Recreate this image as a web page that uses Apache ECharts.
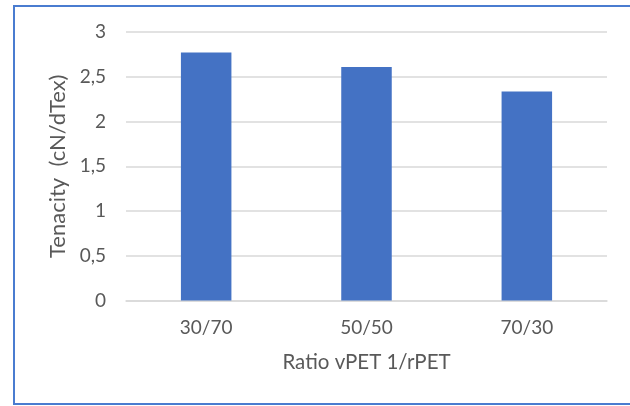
<!DOCTYPE html>
<html>
<head>
<meta charset="utf-8">
<style>
  html, body { margin: 0; padding: 0; background: #ffffff; }
  #chart { width: 630px; height: 406px; }
</style>
<script src="https://cdn.jsdelivr.net/npm/echarts@6/dist/echarts.min.js"></script>
</head>
<body>
<div id="chart"></div>
<script>
// Blend ratios and measured tenacity
const ratios = ['30/70', '50/50', '70/30'];
const tenacity = [2.77, 2.61, 2.335];
const yTicks = [0, 0.5, 1, 1.5, 2, 2.5, 3];

const FONT = 'Lato, "Open Sans", sans-serif';
const TEXT = '#595959';

const chart = echarts.init(document.getElementById('chart'), null, { renderer: 'canvas' });

chart.setOption({
  animation: false,
  backgroundColor: '#ffffff',
  graphic: [{
    type: 'rect',
    shape: { x: 14, y: 6, width: 630, height: 398 },
    style: { fill: 'none', stroke: '#4a7cd0', lineWidth: 2 },
    silent: true
  }],
  grid: { left: 126, right: 23, top: 32, bottom: 105.5, containLabel: false },
  xAxis: {
    type: 'category',
    data: ratios,
    name: 'Ratio vPET 1/rPET',
    nameLocation: 'middle',
    nameGap: 51,
    nameTextStyle: { color: TEXT, fontFamily: FONT, fontSize: 20.5 },
    axisLine: { show: true, lineStyle: { color: '#d9d9d9', width: 1.5 } },
    axisTick: { show: false },
    axisLabel: { color: TEXT, fontFamily: FONT, fontSize: 19, margin: 18 }
  },
  yAxis: {
    type: 'value',
    min: 0,
    max: 3,
    interval: 0.5,
    name: 'Tenacity  (cN/dTex)',
    nameLocation: 'middle',
    nameGap: 54,
    nameTextStyle: { color: TEXT, fontFamily: FONT, fontSize: 22 },
    axisLine: { show: false },
    axisTick: { show: false },
    splitLine: { lineStyle: { color: '#d9d9d9', width: 1.5 } },
    axisLabel: {
      color: TEXT, fontFamily: FONT, fontSize: 19, margin: 20,
      formatter: v => yTicks.includes(v) ? String(v).replace('.', ',') : ''
    }
  },
  series: [{
    type: 'bar',
    data: tenacity,
    barWidth: '31.5%',
    itemStyle: { color: '#4472c4' }
  }]
});
</script>
</body>
</html>
